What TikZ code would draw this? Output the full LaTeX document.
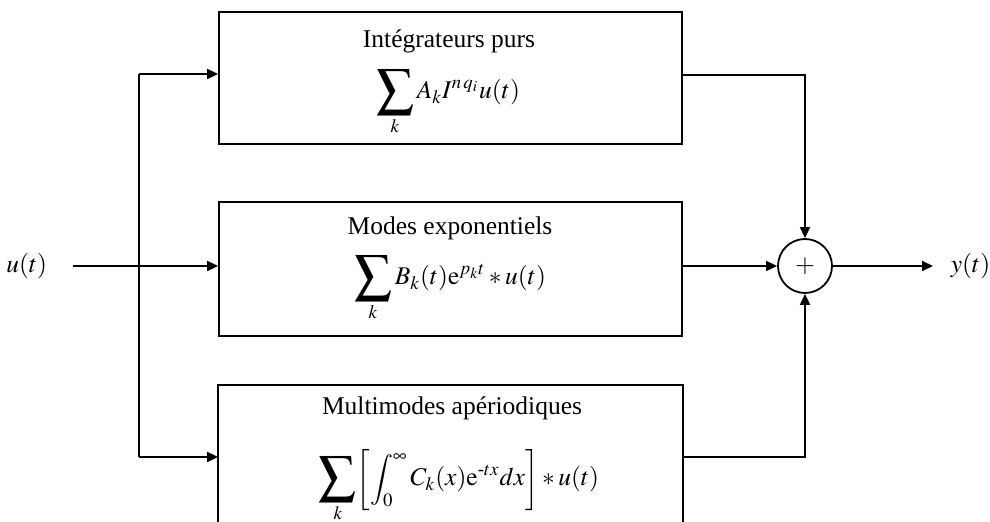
\documentclass[tikz,border=0pt]{standalone}
\usepackage{amsmath}
\usepackage{graphicx}
\usepackage{mathptmx}
\usepackage[no-math]{fontspec}
\setmainfont{Liberation Serif}
\usetikzlibrary{arrows.meta,calc}
\newcommand\bigsumk{\mathop{\vcenter{\hbox{\scalebox{1.45}{$\displaystyle\sum$}}}}\limits_k}
\begin{document}
\begin{tikzpicture}[x=0.5pt,y=-0.5pt,
  font=\fontsize{12.75}{15}\selectfont,
  line width=0.9pt,
  blk/.style={rectangle, inner sep=0pt, minimum width=231.5pt},
  arr/.style={-{Triangle[length=5.5pt,width=5pt]}},
  lbl/.style={inner sep=0pt},
  frm/.style={inner sep=0pt, anchor=base},
]
\useasboundingbox (0,0) rectangle (990,522);
% blocks
\node[blk, draw, minimum height=66pt] (b1) at (450.5,78) {};
\node[blk, draw, minimum height=67pt] (b2) at (450.5,269) {};
\node[blk, minimum height=68pt] (b3) at (450.5,454) {};
\draw (b3.south west) |- (b3.north east) -- (b3.south east);
% texts
\node[lbl] (t1) at (449,41) {Intégrateurs purs};
\node[frm] (f1) at (448,99) {$\displaystyle\bigsumk A_k I^{n\,q_i} u(t)$};
\node[lbl] (t2) at (450,228) {Modes exponentiels};
\node[frm] (f2) at (450,285) {$\displaystyle\bigsumk B_k(t)\mathrm{e}^{p_k t} * u(t)$};
\node[lbl] (t3) at (452,408) {Multimodes apériodiques};
\node[frm] (f3) at (459,486) {$\displaystyle\bigsumk \biggl[\int_0^\infty C_k(x)\mathrm{e}^{\text{-}tx}dx\biggr] * u(t)$};
% summing junction
\node[circle, draw, minimum size=27pt, inner sep=0pt] (sum) at (805,266) {$+$};
% input / output labels
\node[lbl, anchor=east] (uin) at (48,266) {$u(t)$};
\node[lbl, anchor=west] (yout) at (950,266) {$y(t)$};
% input distribution
\coordinate (s1) at (139,74);
\coordinate (s3) at (139,457);
\draw[arr, shorten <=12.5pt] (uin.east) -- (uin.east -| b2.west);
\draw (s1) -- (s3);
\draw[arr] (s1) -- (s1 -| b1.west);
\draw[arr] (s3) -- (s3 -| b3.west);
% outputs to sum
\draw[arr] ([yshift=1.5pt]b1.east) -| (sum.north);
\draw[arr] (b2.east |- sum.west) -- (sum.west);
\draw[arr] ([yshift=-1.5pt]b3.east) -| (sum.south);
\draw[arr, shorten >=8.5pt] (sum.east) -- (sum.east -| yout.west);
\end{tikzpicture}
\end{document}
